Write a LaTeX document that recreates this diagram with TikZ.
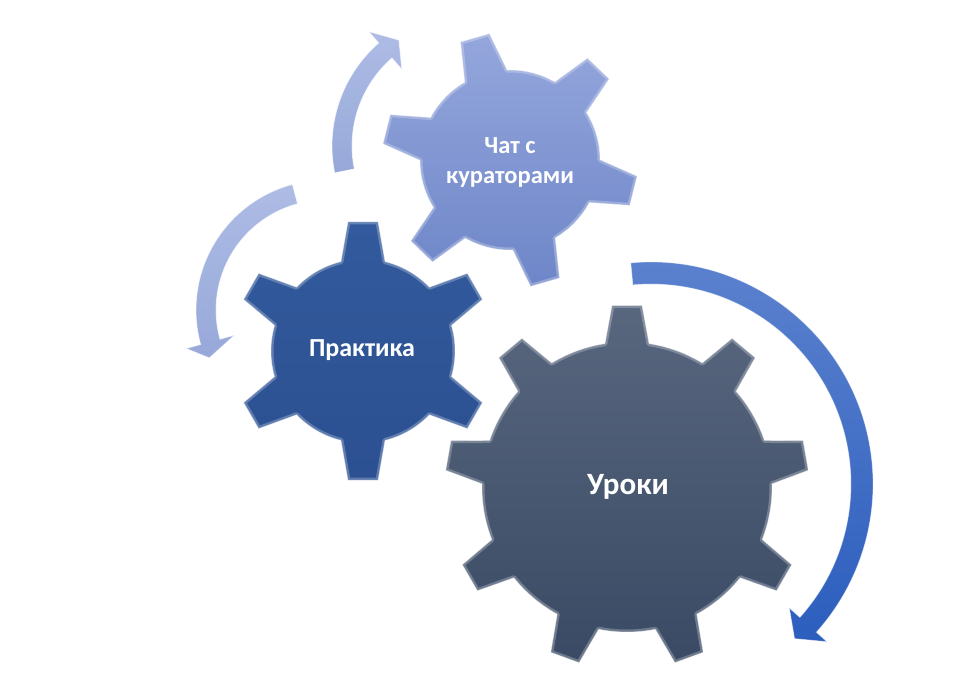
\documentclass[tikz,border=0pt]{standalone}
\usepackage{fontspec}
\setmainfont{Carlito}
\usetikzlibrary{calc}
\definecolor{urtop}{RGB}{88,103,126}
\definecolor{urbot}{RGB}{58,74,100}
\definecolor{prtop}{RGB}{50,90,156}
\definecolor{prbot}{RGB}{44,80,146}
\definecolor{chtop}{RGB}{148,166,220}
\definecolor{chbot}{RGB}{110,134,200}
\definecolor{batop}{RGB}{92,130,206}
\definecolor{babot}{RGB}{44,94,190}
\definecolor{latop}{RGB}{170,185,228}
\definecolor{labot}{RGB}{146,164,216}
\newcommand\gear[8]{%
  \pgfmathsetmacro\gb{asin(22/#3)}%
  \pgfmathsetmacro\go{asin(15/#4)}%
  \pgfmathsetmacro\gs{#5+#6}%
  \def\gearoutline{(#5-\gb:#3)
    \foreach \a in {#5,\gs,...,#7} {
      -- (\a-\gb:#3) -- (\a-\go:#4) -- (\a+\go:#4) -- (\a+\gb:#3)
      arc[start angle=\a+\gb, end angle=\a+#6-\gb, radius=#3]
    } -- cycle}%
  \begin{scope}[shift={(#1,#2)}]
    \path[#8] \gearoutline;
    \begin{scope}
      \clip \gearoutline;
      \path[rim] \gearoutline;
    \end{scope}
    \path[gearedge] \gearoutline;
  \end{scope}
}
\tikzset{
  lbl/.style={text=white, font=\bfseries, align=center, inner sep=0pt},
  rim/.style={draw=white, draw opacity=0.25, line width=5pt, line join=round},
  gearedge/.style={draw=white, draw opacity=0.45, line width=0.7pt, line join=round},
  bigarrow/.style={top color=batop, bottom color=babot, draw=white, draw opacity=0.35, line width=0.8pt, line join=round},
  lightarrow/.style={top color=latop, bottom color=labot, fill opacity=0.95, draw=white, draw opacity=0.6, line width=0.8pt, line join=round}
}
\begin{document}
\begin{tikzpicture}[x=1pt,y=1pt]
\path[use as bounding box, fill=white] (0,0) rectangle (954,681);

% centres
\coordinate (bac) at (651,197);
\coordinate (ulc) at (469,535);
\coordinate (llc) at (326,371);

% big arrow around Уроки
\path[bigarrow] ($(bac)+(95.2:222)$) arc[start angle=95.2, end angle=-41.9, radius=222]
  -- ($(bac)+(-41.9:236)$) -- ($(bac)+(-47.1:211)$) -- ($(bac)+(-41.9:186)$)
  -- ($(bac)+(-41.9:200)$) arc[start angle=-41.9, end angle=95.2, radius=200] -- cycle;

% upper-left arrow
\path[lightarrow] ($(ulc)+(191.3:137)$) arc[start angle=191.3, end angle=131.2, radius=137]
  -- ($(ulc)+(131.2:152)$) -- ($(ulc)+(123.5:127)$) -- ($(ulc)+(131.2:102)$)
  -- ($(ulc)+(131.2:117)$) arc[start angle=131.2, end angle=191.3, radius=117] -- cycle;

% lower-left arrow
\path[lightarrow] ($(llc)+(105:130)$) arc[start angle=105, end angle=195.4, radius=130]
  -- ($(llc)+(195.4:145)$) -- ($(llc)+(195.4:120)+(-1,-16)$) -- ($(llc)+(195.4:95)$)
  -- ($(llc)+(195.4:110)$) arc[start angle=195.4, end angle=105, radius=110] -- cycle;

% gears
\gear{627}{194}{145}{182}{10}{40}{330}{top color=urtop, bottom color=urbot}
\gear{363}{330}{92}{130}{30}{60}{330}{top color=prtop, bottom color=prbot}
\gear{510}{521}{90}{128}{106}{60}{406}{top color=chtop, bottom color=chbot}

% labels
\node[lbl, font=\bfseries\fontsize{31}{34}\selectfont] (ur) at (628,194) {Уроки};
\node[lbl, font=\bfseries\fontsize{26}{28}\selectfont] (pr) at (362,331) {Практика};
\node[lbl, font=\bfseries\fontsize{24.5}{30}\selectfont] (ch) at (510,519) {Чат с\\кураторами};
\end{tikzpicture}
\end{document}
